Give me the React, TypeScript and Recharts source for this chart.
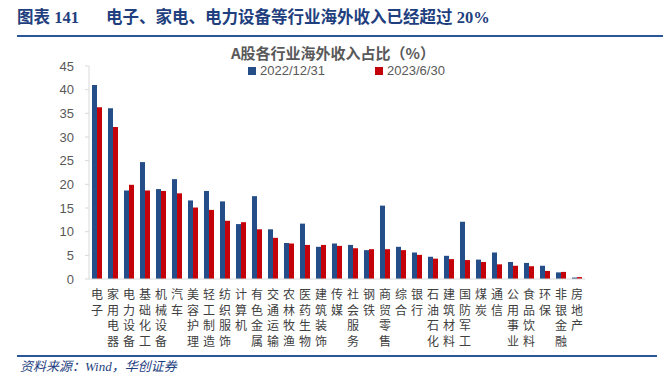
import { BarChart, Bar, XAxis, YAxis } from "recharts";

const categories = [
  "电子", "家用电器", "电力设备", "基础化工", "机械设备", "汽车", "美容护理",
  "轻工制造", "纺织服饰", "计算机", "有色金属", "交通运输", "农林牧渔", "医药生物",
  "建筑装饰", "传媒", "社会服务", "钢铁", "商贸零售", "综合", "银行", "石油石化",
  "建筑材料", "国防军工", "煤炭", "通信", "公用事业", "食品饮料", "环保", "非银金融",
  "房地产",
];

// 2022/12/31
const share2022 = [
  41.0, 36.1, 18.7, 24.7, 19.0, 21.1, 16.6, 18.6, 16.4, 11.6, 17.5, 10.5, 7.6, 11.7,
  6.8, 7.5, 7.2, 6.1, 15.5, 6.8, 5.6, 4.7, 4.9, 12.1, 4.1, 5.6, 3.6, 3.4, 2.8, 1.4, 0.3,
];

// 2023/6/30
const share2023 = [
  36.3, 32.1, 19.9, 18.7, 18.6, 18.1, 15.1, 14.6, 12.3, 12.0, 10.5, 8.7, 7.5, 7.2,
  7.2, 7.0, 6.5, 6.3, 6.3, 6.1, 5.1, 4.3, 4.2, 4.0, 3.6, 3.1, 2.8, 2.7, 1.7, 1.5, 0.4,
];

const yTicks = [0, 5, 10, 15, 20, 25, 30, 35, 40, 45];

const BLUE = "#254D88";
const RED = "#C40008";
const NAVY = "#1F3F7F";

const chartData = categories.map((name, i) => ({
  name,
  a: share2022[i],
  b: share2023[i],
}));

// one character per line, like the original's vertical labels
const CatTick = ({ x, y, payload }: any) => {
  const chars = String(payload.value).split("");
  return (
    <text
      textAnchor="middle"
      fontSize={12}
      fill="#404040"
      fontFamily="'Noto Sans CJK SC', sans-serif"
    >
      {chars.map((c, i) => (
        <tspan key={i} x={x} y={y + 20 + i * 15.5}>
          {c}
        </tspan>
      ))}
    </text>
  );
};

const App = () => {
  return (
    <div
      style={{
        position: "relative",
        width: 663,
        height: 386,
        background: "#fff",
        overflow: "hidden",
      }}
    >
      <style>{"body{margin:0}"}</style>

      {/* header */}
      <div
        style={{
          position: "absolute",
          left: 17,
          top: 8,
          fontSize: 16.5,
          fontWeight: "bold",
          color: NAVY,
          fontFamily: "'Liberation Serif', 'Noto Sans CJK SC', serif",
          whiteSpace: "nowrap",
          lineHeight: "20px",
        }}
      >
        图表 141
      </div>
      <div
        style={{
          position: "absolute",
          left: 106,
          top: 8,
          fontSize: 16.5,
          fontWeight: "bold",
          color: NAVY,
          fontFamily: "'Liberation Serif', 'Noto Sans CJK SC', serif",
          whiteSpace: "nowrap",
          lineHeight: "20px",
        }}
      >
        电子、家电、电力设备等行业海外收入已经超过 20%
      </div>
      <div
        style={{
          position: "absolute",
          left: 17,
          top: 35,
          width: 646,
          height: 2,
          background: "#2A5599",
        }}
      />

      {/* chart title */}
      <div
        style={{
          position: "absolute",
          left: 231,
          top: 43,
          fontSize: 15,
          fontWeight: "bold",
          color: "#595959",
          fontFamily: "'Noto Sans CJK SC', sans-serif",
          whiteSpace: "nowrap",
          lineHeight: "20px",
        }}
      >
        A股各行业海外收入占比（%）
      </div>

      {/* legend */}
      <div
        style={{
          position: "absolute",
          left: 248,
          top: 63,
          fontSize: 13,
          color: "#595959",
          fontFamily: "'Liberation Sans', sans-serif",
          whiteSpace: "nowrap",
          lineHeight: "16px",
          display: "flex",
          alignItems: "center",
        }}
      >
        <span style={{ width: 8, height: 8, background: BLUE, marginRight: 4 }} />
        <span style={{ marginRight: 50 }}>2022/12/31</span>
        <span style={{ width: 8, height: 8, background: RED, marginRight: 4 }} />
        <span>2023/6/30</span>
      </div>

      <div style={{ position: "absolute", left: 0, top: 0 }}>
        <BarChart
          width={663}
          height={386}
          data={chartData}
          margin={{ top: 66, right: 78, bottom: 27, left: 0 }}
          barSize={5}
          barGap={0}
        >
          <XAxis
            dataKey="name"
            interval={0}
            height={80}
            tickLine={false}
            tickSize={0}
            tickMargin={0}
            axisLine={{ stroke: "#D9D9D9" }}
            tick={<CatTick />}
          />
          <YAxis
            width={89}
            domain={[0, 45]}
            ticks={yTicks}
            interval={0}
            tickSize={4}
            tickMargin={11}
            axisLine={{ stroke: "#D9D9D9" }}
            tickLine={{ stroke: "#D9D9D9" }}
            tick={{
              fontSize: 13,
              fill: "#595959",
              fontFamily: "'Liberation Sans', sans-serif",
            }}
          />
          <Bar dataKey="a" fill={BLUE} isAnimationActive={false} />
          <Bar dataKey="b" fill={RED} isAnimationActive={false} />
        </BarChart>
      </div>

      {/* footer */}
      <div
        style={{
          position: "absolute",
          left: 17,
          top: 355,
          width: 640,
          height: 2,
          background: "#2A5599",
        }}
      />
      <div
        style={{
          position: "absolute",
          left: 20,
          top: 359,
          fontSize: 13,
          fontStyle: "italic",
          color: NAVY,
          fontFamily: "'Liberation Serif', 'Noto Sans CJK SC', serif",
          whiteSpace: "nowrap",
          lineHeight: "16px",
        }}
      >
        资料来源：Wind，华创证券
      </div>
    </div>
  );
};

export default App;
